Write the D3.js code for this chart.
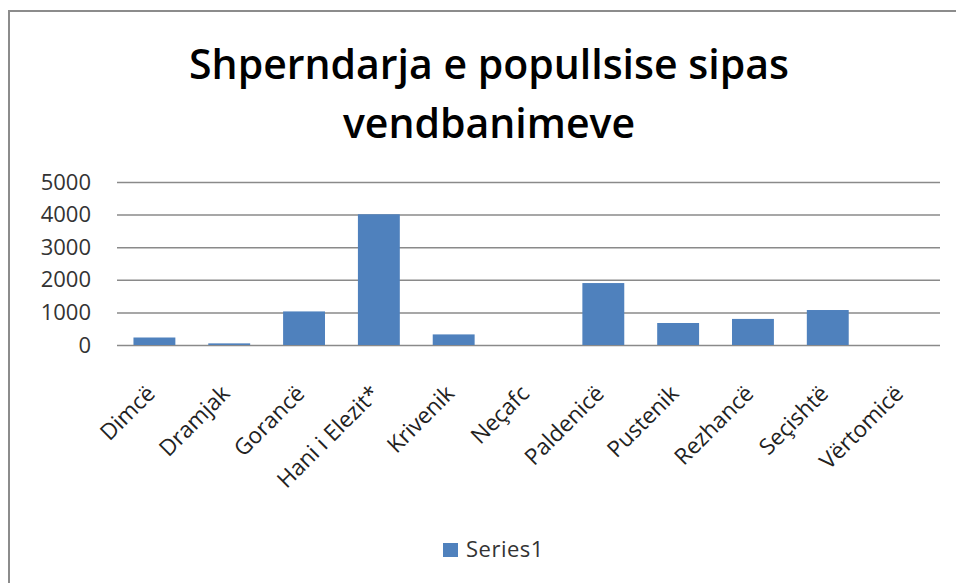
<!DOCTYPE html>
<html>
<head>
<meta charset="utf-8">
<script src="https://cdn.jsdelivr.net/npm/d3@7"></script>
<style>
  body { margin: 0; background: #fff; }
  svg { display: block; }
</style>
</head>
<body>
<div id="chart"></div>
<script>
// data
const villages = ['Dimcë', 'Dramjak', 'Gorancë', 'Hani i Elezit*', 'Krivenik', 'Neçafc',
                  'Paldenicë', 'Pustenik', 'Rezhancë', 'Seçishtë', 'Vërtomicë']
const population = [230, 50, 1030, 4010, 325, 0, 1900, 675, 800, 1073, 0]
const yTicks = [0, 1000, 2000, 3000, 4000, 5000]
const seriesName = 'Series1'
const titleLines = ['Shperndarja e popullsise sipas', 'vendbanimeve']

const W = 956, H = 583
const margin = {top: 182, right: 16, bottom: 238, left: 117}
const width = W - margin.left - margin.right
const height = H - margin.top - margin.bottom
const font = 'Open Sans, Noto Sans, sans-serif'

const svg = d3.select('#chart').append('svg')
    .attr('width', W)
    .attr('height', H)

// chart frame (only top and left edges are visible in the crop)
svg.append('path')
    .attr('d', 'M9,' + H + 'V11H' + W)
    .attr('fill', 'none')
    .attr('stroke', '#8c8c8c')
    .attr('stroke-width', 2)

// title
svg.append('g').selectAll('text')
    .data(titleLines)
    .join('text')
    .attr('x', 489)
    .attr('y', (d, i) => 79 + i * 59)
    .attr('text-anchor', 'middle')
    .attr('font-family', font)
    .attr('font-weight', 600)
    .attr('font-size', 41)
    .attr('fill', '#000')
    .text(d => d)

const g = svg.append('g')
    .attr('transform', 'translate(' + margin.left + ',' + margin.top + ')')

const x = d3.scaleBand()
    .domain(villages)
    .range([0, width])
    .paddingInner(0.44)
    .paddingOuter(0.22)

const y = d3.scaleLinear()
    .domain([0, 5000])
    .range([height, 0])

// gridlines + y labels
const yAxis = d3.axisLeft(y)
    .tickValues(yTicks)
    .tickFormat(d3.format('d'))
    .tickSize(-width)
    .tickPadding(26)
g.append('g')
    .attr('class', 'y axis')
    .call(yAxis)
    .call(a => a.select('.domain').remove())
    .call(a => a.selectAll('line').attr('stroke', '#8a8a8a').attr('stroke-width', 1.5))
    .call(a => a.selectAll('text')
        .attr('font-family', font)
        .attr('font-size', 22)
        .attr('fill', '#333'))

// bars
g.append('g').selectAll('rect')
    .data(population)
    .join('rect')
    .attr('x', (d, i) => x(villages[i]))
    .attr('width', x.bandwidth())
    .attr('y', d => y(d))
    .attr('height', d => height - y(d))
    .attr('fill', '#4f81bd')

// x labels, rotated
g.append('g').selectAll('text')
    .data(villages)
    .join('text')
    .attr('transform', d => 'translate(' + (x(d) + x.bandwidth() / 2 + 2) + ',' + (height + 50) + ') rotate(-45)')
    .attr('text-anchor', 'end')
    .attr('font-family', font)
    .attr('font-size', 22.5)
    .attr('fill', '#222')
    .text(d => d)

// legend
const legend = svg.append('g').attr('transform', 'translate(443,543)')
legend.append('rect')
    .attr('width', 15)
    .attr('height', 14)
    .attr('fill', '#4f81bd')
legend.append('text')
    .attr('x', 23)
    .attr('y', 14)
    .attr('font-family', font)
    .attr('font-size', 22)
    .attr('letter-spacing', 0.5)
    .attr('fill', '#333')
    .text(seriesName)
</script>
</body>
</html>
